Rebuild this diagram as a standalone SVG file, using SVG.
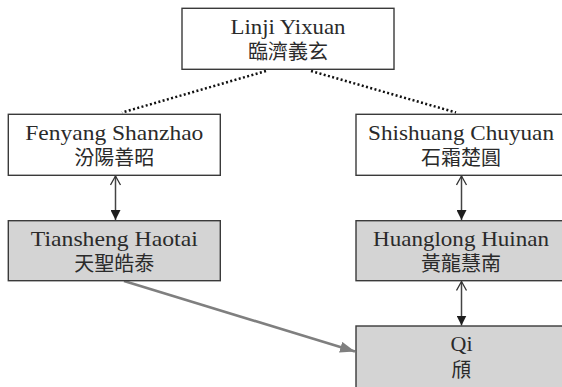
<svg xmlns="http://www.w3.org/2000/svg" width="562" height="387" viewBox="0 0 562 387">
<style>
.box{fill:#ffffff;stroke:#3a3a3a;stroke-width:1.4}
.gbox{fill:#d4d4d4;stroke:#3a3a3a;stroke-width:1.4}
.lat{font-family:"Liberation Serif","DejaVu Serif",serif;font-size:22px;fill:#2a2a2a;text-anchor:middle}
.cjk{font-family:"Noto Sans CJK TC","Noto Sans CJK SC",sans-serif;font-size:20px;fill:#2a2a2a;text-anchor:middle}
.dot{stroke:#111;stroke-width:2.5;stroke-dasharray:2 2.4;fill:none}
.dbl{stroke:#444;stroke-width:1.5;fill:none;marker-start:url(#caret);marker-end:url(#tri)}
.gray{stroke:#7f7f7f;stroke-width:2.6;fill:none;marker-end:url(#gtri)}
</style>
<defs>
<marker id="tri" markerUnits="userSpaceOnUse" markerWidth="10" markerHeight="10" refX="10" refY="5" orient="auto" viewBox="0 0 10 10">
<path d="M0,0 L10,5 L0,10 z" fill="#1e1e1e"/>
</marker>
<marker id="caret" markerUnits="userSpaceOnUse" markerWidth="12" markerHeight="12" refX="10" refY="6" orient="auto-start-reverse" viewBox="0 0 12 12">
<path d="M1,1 L10,6 L1,11" fill="none" stroke="#333" stroke-width="1.3"/>
</marker>
<marker id="gtri" markerUnits="userSpaceOnUse" markerWidth="15" markerHeight="11" refX="15" refY="5.5" orient="auto" viewBox="0 0 15 11">
<path d="M0,0 L15,5.5 L0,11 z" fill="#7f7f7f"/>
</marker>
</defs>
<g id="connectors">
<line class="dot" x1="266" y1="71" x2="122" y2="112.5"/>
<line class="dot" x1="311" y1="71" x2="456" y2="112.5"/>
<line class="dbl" x1="115.5" y1="176" x2="115.5" y2="220"/>
<line class="dbl" x1="461.5" y1="176" x2="461.5" y2="220"/>
<line class="dbl" x1="461.5" y1="281.5" x2="461.5" y2="325.5"/>
<line class="gray" x1="124" y1="281" x2="355" y2="351.5"/>
</g>
<g id="linji">
<rect class="box" x="182" y="8.3" width="212" height="61"/>
<text class="lat" x="288" y="33.5" textLength="115" lengthAdjust="spacingAndGlyphs">Linji Yixuan</text>
<text class="cjk" x="288" y="59">臨濟義玄</text>
</g>
<g id="fenyang">
<rect class="box" x="8.3" y="114.3" width="212" height="61"/>
<text class="lat" x="114.3" y="139.5" textLength="178" lengthAdjust="spacingAndGlyphs">Fenyang Shanzhao</text>
<text class="cjk" x="114.3" y="165">汾陽善昭</text>
</g>
<g id="shishuang">
<rect class="box" x="356" y="114.3" width="212" height="61"/>
<text class="lat" x="461" y="139.5" textLength="186" lengthAdjust="spacingAndGlyphs">Shishuang Chuyuan</text>
<text class="cjk" x="461" y="165">石霜楚圓</text>
</g>
<g id="tiansheng">
<rect class="gbox" x="8.3" y="220.7" width="212" height="60"/>
<text class="lat" x="114.3" y="245.8" textLength="167" lengthAdjust="spacingAndGlyphs">Tiansheng Haotai</text>
<text class="cjk" x="114.3" y="271">天聖皓泰</text>
</g>
<g id="huanglong">
<rect class="gbox" x="356" y="220.7" width="212" height="60"/>
<text class="lat" x="461" y="245.8" textLength="176" lengthAdjust="spacingAndGlyphs">Huanglong Huinan</text>
<text class="cjk" x="461" y="271">黃龍慧南</text>
</g>
<g id="qi">
<rect class="gbox" x="356" y="326" width="212" height="62"/>
<text class="lat" x="461.5" y="350.5">Qi</text>
<text class="cjk" x="461.5" y="376.5">頎</text>
</g>
</svg>
